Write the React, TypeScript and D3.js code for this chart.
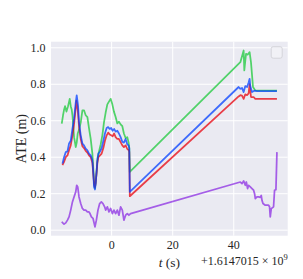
import React, { useRef, useEffect } from "react";
import * as d3 from "d3";

// times are seconds relative to the offset 1.6147015e9
const greenT = [-16.34, -15.92, -15.59, -15.26, -14.8, -14.28, -13.73, -13.4, -13.07, -12.84, -12.52, -12.32, -12.09, -11.76, -11.44, -11.11, -10.69, -10.13, -9.58, -9.05, -8.5, -7.94, -7.42, -6.86, -6.31, -5.98, -5.78, -5.46, -5.23, -4.9, -4.58, -4.15, -3.59, -3.04, -2.52, -1.96, -1.41, -0.88, -0.33, 0.23, 0.75, 1.31, 1.86, 2.39, 2.94, 3.5, 4.02, 4.58, 5.13, 5.56, 5.78, 5.95, 41.08, 42.16, 43.24, 43.46, 44.02, 44.54, 45.2, 45.65, 46.31, 47.06, 54.15];
const greenV = [0.584, 0.63, 0.66, 0.68, 0.65, 0.68, 0.72, 0.68, 0.66, 0.63, 0.56, 0.51, 0.49, 0.456, 0.48, 0.53, 0.55, 0.59, 0.657, 0.657, 0.63, 0.62, 0.56, 0.5, 0.42, 0.33, 0.26, 0.23, 0.26, 0.33, 0.4, 0.43, 0.47, 0.52, 0.59, 0.645, 0.69, 0.705, 0.72, 0.69, 0.65, 0.62, 0.585, 0.595, 0.58, 0.57, 0.53, 0.505, 0.51, 0.48, 0.45, 0.319, 0.903, 0.921, 0.985, 0.876, 0.967, 0.962, 0.976, 0.92, 0.785, 0.766, 0.765];

const blueT = [-16.11, -15.59, -15.03, -14.47, -13.95, -13.4, -12.84, -12.32, -11.76, -11.44, -11.01, -10.69, -10.13, -9.58, -9.05, -8.5, -7.94, -7.42, -6.86, -6.31, -5.98, -5.78, -5.46, -5.23, -4.9, -4.67, -4.35, -3.82, -3.27, -2.71, -2.19, -1.63, -1.14, -0.65, -0.16, 0.33, 0.82, 1.31, 1.86, 2.39, 2.94, 3.5, 4.02, 4.58, 5.13, 5.56, 5.78, 5.95, 41.6, 42.16, 42.71, 43.24, 43.79, 44.35, 44.87, 45.2, 45.42, 45.98, 46.73, 47.61, 54.15];
const blueV = [0.365, 0.4, 0.428, 0.432, 0.475, 0.49, 0.557, 0.61, 0.7, 0.739, 0.684, 0.593, 0.52, 0.475, 0.465, 0.447, 0.438, 0.42, 0.41, 0.383, 0.31, 0.237, 0.223, 0.255, 0.328, 0.383, 0.42, 0.43, 0.45, 0.49, 0.53, 0.56, 0.565, 0.555, 0.56, 0.545, 0.555, 0.54, 0.545, 0.53, 0.51, 0.485, 0.48, 0.5, 0.47, 0.465, 0.45, 0.21, 0.785, 0.775, 0.78, 0.757, 0.79, 0.785, 0.81, 0.83, 0.79, 0.757, 0.765, 0.762, 0.762];

const redT = [-16.11, -15.59, -15.03, -14.47, -13.95, -13.4, -12.84, -12.32, -11.76, -11.54, -11.11, -10.69, -10.13, -9.58, -9.05, -8.5, -7.94, -7.42, -6.86, -6.31, -5.98, -5.72, -5.46, -5.23, -4.9, -4.67, -4.35, -3.82, -3.27, -2.71, -2.19, -1.63, -1.14, -0.65, -0.16, 0.33, 0.82, 1.31, 1.86, 2.39, 2.94, 3.5, 4.02, 4.58, 5.13, 5.56, 5.78, 5.95, 41.6, 42.16, 42.71, 43.24, 43.79, 44.35, 44.87, 45.2, 45.65, 46.5, 47.06, 54.15];
const redV = [0.356, 0.374, 0.4, 0.41, 0.438, 0.465, 0.52, 0.58, 0.67, 0.71, 0.66, 0.57, 0.5, 0.46, 0.45, 0.435, 0.425, 0.41, 0.4, 0.37, 0.3, 0.25, 0.237, 0.26, 0.32, 0.37, 0.4, 0.41, 0.42, 0.45, 0.49, 0.52, 0.535, 0.525, 0.52, 0.515, 0.53, 0.51, 0.5, 0.5, 0.483, 0.465, 0.455, 0.465, 0.445, 0.44, 0.43, 0.186, 0.733, 0.74, 0.738, 0.72, 0.745, 0.74, 0.75, 0.8, 0.73, 0.73, 0.72, 0.72];

const purpleT = [-16.34, -16.01, -15.59, -15.03, -14.47, -13.95, -13.4, -12.84, -12.32, -11.76, -11.44, -11.11, -10.69, -10.13, -9.58, -9.05, -8.5, -7.94, -7.42, -7.09, -6.63, -6.11, -5.46, -5.0, -4.48, -3.92, -3.37, -2.84, -2.29, -1.96, -1.41, -0.88, -0.33, 0.23, 0.75, 1.31, 1.86, 2.39, 2.94, 3.5, 4.02, 4.58, 5.13, 5.65, 6.21, 42.16, 42.71, 43.24, 43.79, 44.12, 44.54, 44.87, 45.42, 45.98, 46.5, 46.83, 47.06, 47.61, 48.14, 48.69, 49.02, 49.25, 49.58, 50.33, 51.41, 51.73, 51.96, 52.29, 53.04, 53.37, 53.82, 54.15];
const purpleV = [0.046, 0.04, 0.033, 0.04, 0.055, 0.073, 0.11, 0.155, 0.182, 0.21, 0.246, 0.237, 0.182, 0.146, 0.119, 0.11, 0.11, 0.1, 0.1, 0.091, 0.073, 0.065, 0.018, 0.055, 0.11, 0.146, 0.155, 0.146, 0.128, 0.11, 0.128, 0.1, 0.119, 0.091, 0.11, 0.091, 0.11, 0.082, 0.128, 0.11, 0.055, 0.082, 0.091, 0.082, 0.091, 0.264, 0.255, 0.27, 0.246, 0.264, 0.228, 0.246, 0.237, 0.228, 0.219, 0.2, 0.173, 0.182, 0.182, 0.18, 0.19, 0.164, 0.146, 0.137, 0.137, 0.128, 0.073, 0.118, 0.128, 0.219, 0.222, 0.428];

const xTicks = [0, 20, 40];
const yTicks = [0.0, 0.2, 0.4, 0.6, 0.8, 1.0];

const seriesList = [
  { t: greenT, v: greenV, color: "#1AC938" },
  { t: redT, v: redV, color: "#E8000B" },
  { t: blueT, v: blueV, color: "#023EFF" },
  { t: purpleT, v: purpleV, color: "#8B2BE2" },
];

function AteChart() {
  const svgRef = useRef(null);
  const width = 303;
  const height = 279;
  const margin = { top: 41.7, left: 51, bottom: 43.3, right: 15.3 };

  const draw = () => {
    const svg = d3.select(svgRef.current);
    svg.selectAll("*").remove();

    // matplotlib style 5% padding around the data
    const allT = seriesList.flatMap(s => s.t);
    const allV = seriesList.flatMap(s => s.v);
    const [t0, t1] = d3.extent(allT);
    const [v0, v1] = d3.extent(allV);
    const pt = (t1 - t0) * 0.05;
    const pv = (v1 - v0) * 0.05;

    const x = d3
      .scaleLinear()
      .domain([t0 - pt, t1 + pt])
      .range([margin.left, width - margin.right]);
    const y = d3
      .scaleLinear()
      .domain([v0 - pv, v1 + pv])
      .range([height - margin.bottom, margin.top]);

    const font = "'Liberation Serif', 'Times New Roman', serif";
    const textColor = "#262626";

    svg
      .append("rect")
      .attr("x", margin.left)
      .attr("y", margin.top)
      .attr("width", width - margin.left - margin.right)
      .attr("height", height - margin.top - margin.bottom)
      .attr("fill", "#EAEAF2");

    // grid
    svg
      .append("g")
      .selectAll("line")
      .data(yTicks)
      .enter()
      .append("line")
      .attr("x1", margin.left)
      .attr("x2", width - margin.right)
      .attr("y1", d => y(d))
      .attr("y2", d => y(d))
      .attr("stroke", "#fff")
      .attr("stroke-width", 1);
    svg
      .append("g")
      .selectAll("line")
      .data(xTicks)
      .enter()
      .append("line")
      .attr("x1", d => x(d))
      .attr("x2", d => x(d))
      .attr("y1", margin.top)
      .attr("y2", height - margin.bottom)
      .attr("stroke", "#fff")
      .attr("stroke-width", 1);

    // tick labels
    svg
      .append("g")
      .selectAll("text")
      .data(yTicks)
      .enter()
      .append("text")
      .attr("x", margin.left - 5.5)
      .attr("y", d => y(d) + 4)
      .attr("text-anchor", "end")
      .attr("font-family", font)
      .attr("font-size", 12)
      .attr("fill", textColor)
      .text(d => d.toFixed(1));
    svg
      .append("g")
      .selectAll("text")
      .data(xTicks)
      .enter()
      .append("text")
      .attr("x", d => x(d))
      .attr("y", 249)
      .attr("text-anchor", "middle")
      .attr("font-family", font)
      .attr("font-size", 12)
      .attr("fill", textColor)
      .text(d => d);

    const line = d3
      .line()
      .x(d => x(d[0]))
      .y(d => y(d[1]));

    seriesList.forEach(s => {
      svg
        .append("path")
        .datum(s.t.map((t, i) => [t, s.v[i]]))
        .attr("d", line)
        .attr("fill", "none")
        .attr("stroke", s.color)
        .attr("stroke-opacity", 0.74)
        .attr("stroke-width", 1.75)
        .attr("stroke-linejoin", "round");
    });

    // empty legend box
    svg
      .append("rect")
      .attr("x", width - margin.right - 16.5)
      .attr("y", margin.top + 5)
      .attr("width", 11)
      .attr("height", 11.5)
      .attr("rx", 2)
      .attr("fill", "#F1F1F6")
      .attr("stroke", "#D4D4DA")
      .attr("stroke-width", 1);

    // axis labels
    const xl = svg
      .append("text")
      .attr("x", (margin.left + width - margin.right) / 2)
      .attr("y", 267)
      .attr("text-anchor", "middle")
      .attr("font-family", font)
      .attr("font-size", 13.5)
      .attr("fill", textColor);
    xl.append("tspan").attr("font-style", "italic").text("t");
    xl.append("tspan").text(" (s)");

    const off = svg
      .append("text")
      .attr("x", width - margin.right)
      .attr("y", 265)
      .attr("text-anchor", "end")
      .attr("font-family", font)
      .attr("font-size", 12)
      .attr("fill", textColor);
    off.append("tspan").text("+1.6147015 × 10");
    off.append("tspan").attr("dy", -5).attr("font-size", 8.5).text("9");

    svg
      .append("text")
      .attr("transform", `translate(21,${(margin.top + height - margin.bottom) / 2}) rotate(-90)`)
      .attr("text-anchor", "middle")
      .attr("dominant-baseline", "central")
      .attr("font-family", font)
      .attr("font-size", 14)
      .attr("fill", textColor)
      .text("ATE (m)");
  };

  useEffect(() => {
    draw();
  }, []);

  return (
    <svg
      ref={svgRef}
      width={width}
      height={height}
      style={{ position: "absolute", left: 0, top: 0, background: "#fff" }}
    ></svg>
  );
}

export default function App() {
  return <AteChart />;
}
